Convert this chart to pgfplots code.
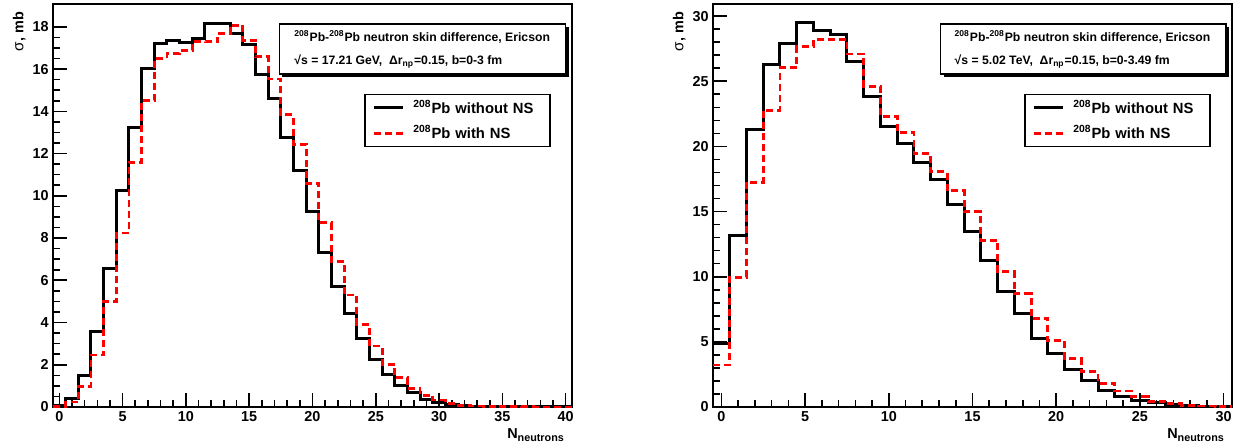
\documentclass[border=0pt]{standalone}
\usepackage{fontspec}
\setmainfont{Liberation Sans}
\usepackage{pgfplots}
\usepackage{pgfplotstable}
\pgfplotsset{compat=1.18}

\pgfplotstableread{
x y
-0.5 0.05
0.5 0.41
1.5 1.50
2.5 3.56
3.5 6.58
4.5 10.27
5.5 13.22
6.5 16.03
7.5 17.22
8.5 17.37
9.5 17.28
10.5 17.44
11.5 18.15
12.5 18.17
13.5 17.67
14.5 17.15
15.5 15.73
16.5 14.60
17.5 12.77
18.5 11.18
19.5 9.24
20.5 7.33
21.5 5.72
22.5 4.44
23.5 3.24
24.5 2.24
25.5 1.55
26.5 1.01
27.5 0.68
28.5 0.36
29.5 0.22
30.5 0.12
31.5 0.07
32.5 0.04
33.5 0.02
34.5 0.015
35.5 0.01
36.5 0.005
37.5 0.003
38.5 0.002
39.5 0.001
40.5 0.001
}\leftA

\pgfplotstableread{
x y
-0.5 0.03
0.5 0.24
1.5 0.99
2.5 2.46
3.5 4.99
4.5 8.24
5.5 11.58
6.5 14.52
7.5 16.49
8.5 16.72
9.5 16.88
10.5 17.31
11.5 17.29
12.5 17.69
13.5 18.08
14.5 17.37
15.5 16.58
16.5 15.53
17.5 13.83
18.5 12.44
19.5 10.60
20.5 8.72
21.5 6.89
22.5 5.30
23.5 3.92
24.5 2.89
25.5 2.02
26.5 1.38
27.5 0.89
28.5 0.55
29.5 0.33
30.5 0.18
31.5 0.09
32.5 0.05
33.5 0.03
34.5 0.02
35.5 0.01
36.5 0.007
37.5 0.004
38.5 0.002
39.5 0.001
40.5 0.001
}\leftB

\pgfplotstableread{
x y
-0.5 4.87
0.5 13.15
1.5 21.28
2.5 26.25
3.5 27.93
4.5 29.49
5.5 28.88
6.5 28.60
7.5 26.50
8.5 23.83
9.5 21.53
10.5 20.20
11.5 18.75
12.5 17.45
13.5 15.58
14.5 13.44
15.5 11.27
16.5 8.85
17.5 7.15
18.5 5.25
19.5 4.08
20.5 2.87
21.5 2.05
22.5 1.28
23.5 0.84
24.5 0.53
25.5 0.33
26.5 0.19
27.5 0.10
28.5 0.05
29.5 0.03
30.5 0.03
}\rightA

\pgfplotstableread{
x y
-0.5 3.23
0.5 9.97
1.5 17.24
2.5 22.78
3.5 26.05
4.5 27.65
5.5 28.21
6.5 28.21
7.5 27.09
8.5 24.62
9.5 22.30
10.5 21.07
11.5 19.44
12.5 18.05
13.5 16.59
14.5 14.98
15.5 12.80
16.5 10.37
17.5 8.71
18.5 6.81
19.5 5.10
20.5 3.71
21.5 2.72
22.5 1.82
23.5 1.23
24.5 0.80
25.5 0.45
26.5 0.26
27.5 0.13
28.5 0.07
29.5 0.04
30.5 0.04
}\rightB

\pgfplotsset{
  rootaxis/.style={
    scale only axis, width=259.5pt, height=201.5pt, anchor=south west,
    axis line style={line width=0.8pt},
    tick style={line width=0.8pt, black},
    major tick length=7pt, minor tick length=3.3pt,
    xtick pos=left, ytick pos=left, tick align=inside,
    /pgf/number format/assume math mode=true,
    ticklabel style={font=\bfseries\fontsize{7.2}{8}\selectfont},
    xticklabel style={anchor=base, yshift=-7pt, inner sep=0pt},
    yticklabel style={anchor=east, inner sep=0pt, xshift=-2pt},
    ymin=0,
    label style={font=\bfseries\fontsize{7.2}{8}\selectfont},
    ylabel={{\mdseries\fontsize{7.6}{8}\selectfont σ}, mb},
    ylabel style={at={(axis description cs:-0.057,0.9975)}, anchor=base east},
    xlabel={N\raisebox{-1.6pt}{\fontsize{5.4}{6}\selectfont neutrons}},
    xlabel style={at={(axis description cs:0.998,-0.0769)}, anchor=base east},
    legend cell align=left,
    legend image code/.code={\draw[##1] (0pt,0pt) -- (14.5pt,0pt);},
    legend style={at={(0.6,0.776)}, anchor=north west, draw=black, line width=0.6pt,
      fill=white, inner xsep=3.5pt, inner ysep=1.65pt, row sep=3pt, column sep=4.65pt,
      font=\bfseries\fontsize{7.4}{8}\selectfont,
      nodes={inner sep=0pt, text height=7.7pt, text depth=2pt, text width=64.85pt, align=left}},
  },
  nons/.style={black, line width=1.5pt},
  withns/.style={red, line width=1.4pt, dash pattern=on 3.5pt off 2pt},
}

\begin{document}
\begin{tikzpicture}
\useasboundingbox (0,0) rectangle (621pt,223.5pt);

\begin{axis}[rootaxis, at={(26.5pt,20pt)},
  xmin=-0.5, xmax=40.5, ymax=19.08,
  xtick={0,5,...,40}, minor x tick num=4,
  ytick={0,2,...,18}, minor y tick num=3]
\addplot[nons, const plot mark left] table[x=x,y=y] {\leftA};
\addlegendentry{\textsuperscript{208}Pb without NS}
\addplot[withns, const plot mark left] table[x=x,y=y] {\leftB};
\addlegendentry{\textsuperscript{208}Pb with NS}
\end{axis}

\begin{axis}[rootaxis, at={(356.5pt,20pt)},
  xmin=-0.5, xmax=30.5, ymax=30.93,
  xtick={0,5,...,30}, minor x tick num=4,
  ytick={0,5,...,30}, minor y tick num=4]
\addplot[nons, const plot mark left] table[x=x,y=y] {\rightA};
\addlegendentry{\textsuperscript{208}Pb without NS}
\addplot[withns, const plot mark left] table[x=x,y=y] {\rightB};
\addlegendentry{\textsuperscript{208}Pb with NS}
\end{axis}

% info boxes
\fill[black] (141.15pt,185pt) rectangle (284.35pt,210pt);
\draw[fill=white, line width=0.6pt] (139.65pt,186.5pt) rectangle (282.85pt,211.5pt);
\node[anchor=base west, inner sep=0pt, font=\bfseries\fontsize{6.1}{7}\selectfont] at (147pt,202.65pt)
  {\textsuperscript{208}Pb-\textsuperscript{208}Pb neutron skin difference, Ericson};
\node[anchor=base west, inner sep=0pt, font=\bfseries\fontsize{6.1}{7}\selectfont] at (147pt,191.5pt)
  {√s = 17.21 GeV, \ Δr\textsubscript{np}=0.15, b=0-3 fm};

\fill[black] (471.85pt,185pt) rectangle (614.5pt,210pt);
\draw[fill=white, line width=0.6pt] (470.35pt,186.5pt) rectangle (613pt,211.5pt);
\node[anchor=base west, inner sep=0pt, font=\bfseries\fontsize{6.1}{7}\selectfont] at (477.15pt,202.65pt)
  {\textsuperscript{208}Pb-\textsuperscript{208}Pb neutron skin difference, Ericson};
\node[anchor=base west, inner sep=0pt, font=\bfseries\fontsize{6.1}{7}\selectfont] at (477.15pt,191.5pt)
  {√s = 5.02 TeV, \ Δr\textsubscript{np}=0.15, b=0-3.49 fm};
\end{tikzpicture}
\end{document}
